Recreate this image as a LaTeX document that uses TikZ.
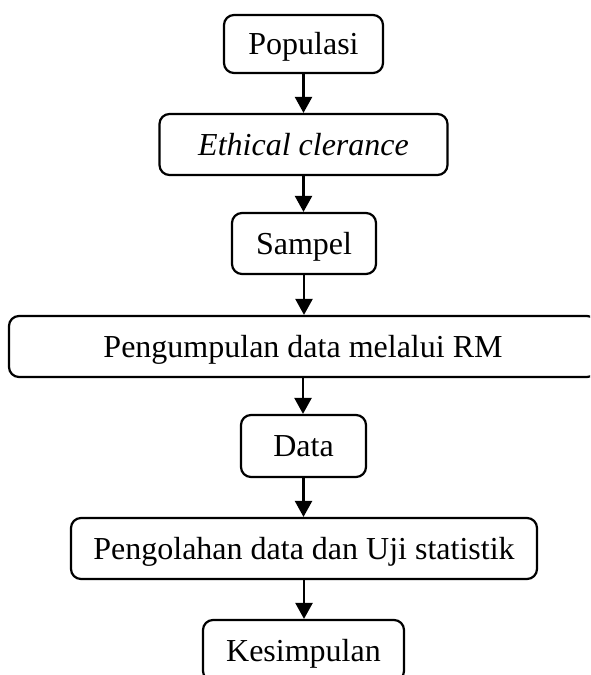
\documentclass[tikz,border=0pt]{standalone}
\usepackage{fontspec}
\setmainfont{Liberation Serif}
\usetikzlibrary{arrows.meta}
\begin{document}
\begin{tikzpicture}[x=1pt,y=-1pt,
  stage/.style={draw, line width=2.2pt, rounded corners=10pt, inner sep=0pt,
    minimum height=61pt, text height=21pt, text depth=0pt,
    font=\fontsize{32}{38}\selectfont},
  flow/.style={line width=2.4pt, -{Triangle[width=17pt,length=16pt]}}]
  \useasboundingbox (0,0) rectangle (590,675);
  \clip (0,0) rectangle (590,675);
  \node[stage, minimum width=159pt, minimum height=58pt] (pop) at (303.5,44) {Populasi};
  \node[stage, minimum width=288pt] (eth) at (303.5,144.5) {\itshape Ethical clerance};
  \node[stage, minimum width=144pt] (sam) at (304,243.5) {Sampel};
  \node[stage, minimum width=588pt] (pen) at (303,346.5) {Pengumpulan data melalui RM};
  \node[stage, minimum width=125pt, minimum height=62pt] (dat) at (303.5,446) {Data};
  \node[stage, minimum width=466pt] (olah) at (304,548.5) {Pengolahan data dan Uji statistik};
  \node[stage, minimum width=201pt] (kes) at (303.5,650.5) {Kesimpulan};
  \draw[flow] (pop.south) -- (pop.south |- eth.north);
  \draw[flow] (eth.south) -- (eth.south |- sam.north);
  \draw[flow] (sam.south) -- (sam.south |- pen.north);
  \draw[flow] (pen.south) -- (pen.south |- dat.north);
  \draw[flow] (dat.south) -- (dat.south |- olah.north);
  \draw[flow] (olah.south) -- (olah.south |- kes.north);
\end{tikzpicture}
\end{document}
